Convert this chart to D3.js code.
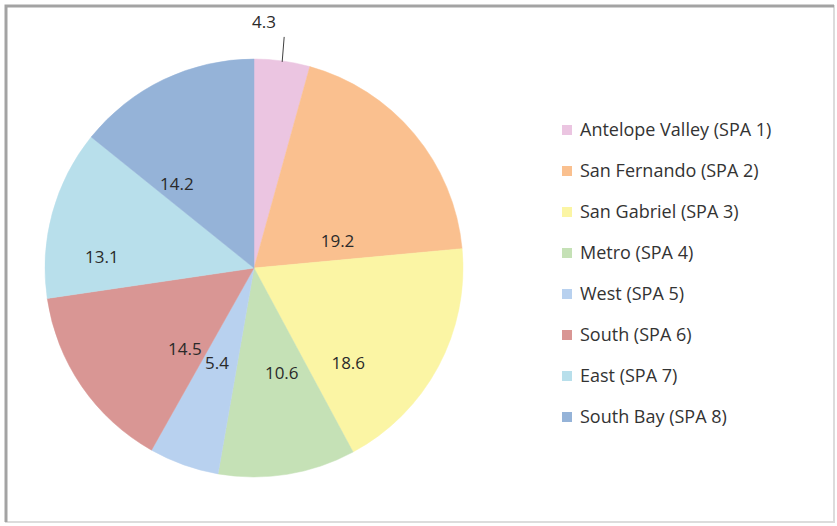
<!DOCTYPE html>
<html><head><meta charset="utf-8">
<script src="https://cdn.jsdelivr.net/npm/d3@7/dist/d3.min.js"></script>
<style>html,body{margin:0;padding:0;background:#fff;}svg{display:block;}</style>
</head><body>
<svg id="chart" width="837" height="526"></svg>
<script>
const categories = ["Antelope Valley (SPA 1)","San Fernando (SPA 2)","San Gabriel (SPA 3)","Metro (SPA 4)","West (SPA 5)","South (SPA 6)","East (SPA 7)","South Bay (SPA 8)"];
const values = [4.3,19.2,18.6,10.6,5.4,14.5,13.1,14.2];
const colors = ["#ebc5e1","#fac08f","#fbf5a4","#c5e1b6","#b8d1ef","#d99694","#b8dfeb","#95b3d8"];
// label placement (angle offset from slice middle in degrees, radius fraction)
const labelPlace = [[0,1.2],[22,0.42],[17,0.64],[-5.6,0.52],[1.6,0.49],[-15,0.51],[-11,0.73],[-17,0.545]];

const svg = d3.select("#chart");
// frame
svg.append("rect").attr("x",6).attr("y",6).attr("width",828).attr("height",516)
  .attr("fill","#fff").attr("stroke","#dcdcdc").attr("stroke-width",2);
svg.append("path").attr("d","M6,522V6H834").attr("fill","none").attr("stroke","#a3a3a3").attr("stroke-width",3);

const cx = 254, cy = 268, r = 209;
const g = svg.append("g").attr("transform",`translate(${cx},${cy})`);
const pie = d3.pie().sort(null).value(d=>d)(values);
const arc = d3.arc().innerRadius(0).outerRadius(r);
g.selectAll("path.slice").data(pie).enter().append("path")
  .attr("class","slice").attr("d",arc).attr("fill",(d,i)=>colors[i])
  .attr("stroke",(d,i)=>colors[i]).attr("stroke-width",0.5);

const font = "'Open Sans', Lato, sans-serif";
pie.forEach((d,i)=>{
  const mid = (d.startAngle+d.endAngle)/2;
  const [off, rf] = labelPlace[i];
  const a = mid + off*Math.PI/180;
  let x = Math.sin(a)*r*rf, y = -Math.cos(a)*r*rf;
  if (rf > 1) {
    // outside label with leader line
    const lx = Math.sin(mid)*r, ly = -Math.cos(mid)*r;
    g.append("line").attr("x1",lx).attr("y1",ly+1).attr("x2",lx+2).attr("y2",ly-24)
      .attr("stroke","#404040").attr("stroke-width",1);
    x = 10; y = -r*1.19 + 3;
  }
  g.append("text").attr("x",x).attr("y",y).attr("dy","0.35em")
    .attr("text-anchor","middle").attr("font-family",font).attr("font-size",17)
    .attr("fill","#2a2a2a").text(values[i].toFixed(1));
});

// legend
const lg = svg.append("g").attr("transform","translate(562,130)");
categories.forEach((c,i)=>{
  const row = lg.append("g").attr("transform",`translate(0,${i*41})`);
  row.append("rect").attr("x",0).attr("y",-5).attr("width",10).attr("height",10).attr("fill",colors[i]);
  row.append("text").attr("x",18).attr("y",0).attr("dy","0.35em").attr("font-family",font)
    .attr("font-size",18).attr("fill","#333").text(c);
});
</script>
</body></html>
